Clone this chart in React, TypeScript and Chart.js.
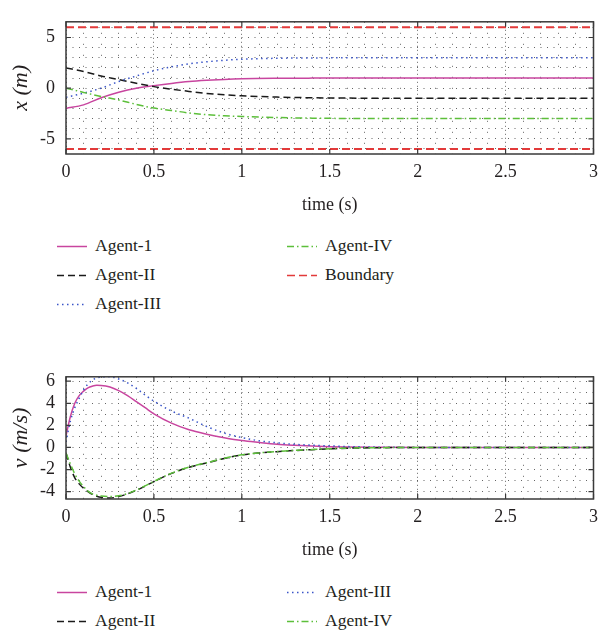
import React, { useEffect, useRef } from 'react';
import { Chart, registerables } from 'chart.js';

Chart.register(...registerables);

const FONT = "'Liberation Serif', 'DejaVu Serif', serif";
const TEXT = '#231f20';

// ---- Top chart: positions x (m) ----
const tPos = [0, 0.1, 0.2, 0.3, 0.4, 0.5, 0.6, 0.7, 0.8, 0.9, 1.0, 1.2, 1.4, 1.6, 2.0, 2.5, 3.0];
const posAgent1 = [-2, -1.65, -0.95, -0.4, 0.0, 0.25, 0.47, 0.65, 0.77, 0.86, 0.92, 0.97, 0.99, 1, 1, 1, 1];
const posAgent2 = [2, 1.65, 1.2, 0.85, 0.48, 0.15, -0.1, -0.32, -0.52, -0.66, -0.76, -0.88, -0.95, -0.98, -1, -1, -1];
const posAgent3 = [-0.9, -0.5, 0.0, 0.65, 1.2, 1.72, 2.1, 2.4, 2.6, 2.75, 2.85, 2.95, 2.98, 3, 3, 3, 3];
const posAgent4 = [0, -0.42, -0.82, -1.17, -1.6, -1.97, -2.2, -2.45, -2.62, -2.72, -2.8, -2.9, -2.96, -2.99, -3, -3, -3];
const tBoundary = [0, 3];
const boundaryUpper = [6, 6];
const boundaryLower = [-6, -6];

// ---- Bottom chart: velocities v (m/s) ----
const tVel = [0, 0.025, 0.05, 0.075, 0.1, 0.125, 0.15, 0.175, 0.2, 0.25, 0.3, 0.35, 0.4, 0.45, 0.5, 0.6, 0.7, 0.8, 0.9, 1.0, 1.1, 1.2, 1.3, 1.4, 1.5, 1.6, 1.8, 2.0, 2.5, 3.0];
const velAgent1 = [1.05, 2.8, 4.0, 4.7, 5.1, 5.4, 5.55, 5.63, 5.62, 5.48, 5.15, 4.7, 4.15, 3.6, 3.05, 2.2, 1.6, 1.2, 0.88, 0.62, 0.45, 0.3, 0.2, 0.12, 0.06, 0.03, 0.01, 0, 0, 0];
const velAgent2 = [-0.5, -1.8, -2.75, -3.3, -3.7, -4.0, -4.25, -4.42, -4.52, -4.58, -4.45, -4.2, -3.88, -3.5, -3.1, -2.35, -1.8, -1.4, -1.0, -0.68, -0.5, -0.38, -0.28, -0.2, -0.13, -0.07, -0.02, 0, 0, 0];
const velAgent3 = [0.5, 2.4, 3.6, 4.45, 5.2, 5.75, 6.1, 6.3, 6.38, 6.42, 6.2, 5.85, 5.35, 4.75, 4.2, 3.3, 2.65, 1.9, 1.3, 0.9, 0.6, 0.42, 0.28, 0.2, 0.14, 0.08, 0.02, 0, 0, 0];
const velAgent4 = [-0.5, -1.5, -2.4, -3.05, -3.55, -3.95, -4.2, -4.33, -4.4, -4.45, -4.38, -4.18, -3.86, -3.48, -3.08, -2.33, -1.78, -1.38, -0.98, -0.67, -0.49, -0.37, -0.27, -0.19, -0.12, -0.06, -0.02, 0, 0, 0];

// ---- Tick labels ----
const timeTicks = [0, 0.5, 1, 1.5, 2, 2.5, 3];
const posTicks = [-5, 0, 5];
const velTicks = [-4, -2, 0, 2, 4, 6];

// ---- Styles ----
const C_A1 = '#c8459f';
const C_A2 = '#1a1a1a';
const C_A3 = '#3a55c8';
const C_A4 = '#5cbf3a';
const C_BD = '#e23a3a';
const GRID = 'rgba(50,50,50,0.75)';

const DASH_A2 = [7, 4];
const DASH_A3 = [1.5, 3.5];
const DASH_A4 = [7, 3, 1.5, 3];
const DASH_BD = [8, 4];

const zip = (xs: number[], ys: number[]) => xs.map((x, i) => ({ x, y: ys[i] }));
const near = (v: number, list: number[]) => list.some((t) => Math.abs(t - v) < 1e-6);

function lineDs(label: string, xs: number[], ys: number[], color: string, dash: number[], width = 1.5) {
  return {
    label,
    data: zip(xs, ys),
    borderColor: color,
    backgroundColor: color,
    borderWidth: width,
    borderDash: dash,
    pointRadius: 0,
    fill: false,
    cubicInterpolationMode: 'monotone' as const,
  };
}

function makeFramePlugin(xMajor: number[], yMajor: number[]) {
  return {
    id: 'frameTicks',
    afterDatasetsDraw(chart: any) {
      const { ctx, chartArea: a, scales } = chart;
      ctx.save();
      ctx.setLineDash([]);
      ctx.strokeStyle = '#3a3a3a';
      ctx.lineWidth = 1.5;
      ctx.strokeRect(a.left, a.top, a.right - a.left, a.bottom - a.top);
      ctx.lineWidth = 1.2;
      const L = 5;
      ctx.beginPath();
      for (const v of xMajor) {
        const px = scales.x.getPixelForValue(v);
        ctx.moveTo(px, a.bottom);
        ctx.lineTo(px, a.bottom - L);
        ctx.moveTo(px, a.top);
        ctx.lineTo(px, a.top + L);
      }
      for (const v of yMajor) {
        const py = scales.y.getPixelForValue(v);
        ctx.moveTo(a.left, py);
        ctx.lineTo(a.left + L, py);
        ctx.moveTo(a.right, py);
        ctx.lineTo(a.right - L, py);
      }
      ctx.stroke();
      ctx.restore();
    },
  };
}

function buildOptions(yMin: number, yMax: number, yMajor: number[], yTitle: string) {
  const tickFont = { family: FONT, size: 18 };
  return {
    responsive: false,
    animation: false as const,
    devicePixelRatio: 1,
    layout: { padding: { left: 0, right: 7, top: 7, bottom: 0 } },
    plugins: { legend: { display: false }, tooltip: { enabled: false } },
    scales: {
      x: {
        type: 'linear' as const,
        min: 0,
        max: 3,
        afterFit: (s: any) => {
          s.height = 65;
        },
        ticks: {
          stepSize: 0.1,
          autoSkip: false,
          maxRotation: 0,
          padding: 7,
          color: TEXT,
          font: tickFont,
          callback: (v: any) => (near(Number(v), timeTicks) ? String(Math.round(Number(v) * 2) / 2) : ''),
        },
        grid: {
          drawTicks: false,
          color: GRID,
          lineWidth: 1,
        },
        border: {
          display: false,
          dash: (c: any) => (c.tick && near(c.tick.value, timeTicks) ? [1, 3] : [1, 10]),
        },
        title: {
          display: true,
          text: 'time (s)',
          color: TEXT,
          font: { family: FONT, size: 18 },
          padding: { top: 0, bottom: 3 },
        },
      },
      y: {
        type: 'linear' as const,
        min: yMin,
        max: yMax,
        afterFit: (s: any) => {
          s.width = 66;
        },
        ticks: {
          stepSize: 1,
          includeBounds: false,
          autoSkip: false,
          padding: 11,
          color: TEXT,
          font: tickFont,
          callback: (v: any) => (near(Number(v), yMajor) ? String(Math.round(Number(v))) : ''),
        },
        grid: {
          drawTicks: false,
          color: GRID,
          lineWidth: 1,
        },
        border: {
          display: false,
          dash: [1, 5.5],
        },
        title: {
          display: true,
          text: yTitle,
          color: TEXT,
          font: { family: FONT, size: 22, style: 'italic' as const },
          padding: { top: 8, bottom: 0 },
        },
      },
    },
  };
}

function PositionChart() {
  const ref = useRef<HTMLCanvasElement>(null);
  useEffect(() => {
    if (!ref.current) return;
    const chart = new Chart(ref.current, {
      type: 'line',
      data: {
        datasets: [
          lineDs('Boundary', tBoundary, boundaryUpper, C_BD, DASH_BD, 2),
          lineDs('Boundary (lower)', tBoundary, boundaryLower, C_BD, DASH_BD, 2),
          lineDs('Agent-IV', tPos, posAgent4, C_A4, DASH_A4),
          lineDs('Agent-III', tPos, posAgent3, C_A3, DASH_A3),
          lineDs('Agent-II', tPos, posAgent2, C_A2, DASH_A2),
          lineDs('Agent-1', tPos, posAgent1, C_A1, []),
        ] as any,
      },
      options: buildOptions(-6.5, 6.55, posTicks, 'x (m)') as any,
      plugins: [makeFramePlugin(timeTicks, posTicks)],
    });
    return () => chart.destroy();
  }, []);
  return <canvas ref={ref} width={605} height={219} style={{ position: 'absolute', left: 0, top: 0, width: 605, height: 219 }} />;
}

function VelocityChart() {
  const ref = useRef<HTMLCanvasElement>(null);
  useEffect(() => {
    if (!ref.current) return;
    const chart = new Chart(ref.current, {
      type: 'line',
      data: {
        datasets: [
          lineDs('Agent-IV', tVel, velAgent4, C_A4, DASH_A4),
          lineDs('Agent-II', tVel, velAgent2, C_A2, DASH_A2),
          lineDs('Agent-III', tVel, velAgent3, C_A3, DASH_A3),
          lineDs('Agent-1', tVel, velAgent1, C_A1, []),
        ] as any,
      },
      options: buildOptions(-4.67, 6.4, velTicks, 'v (m/s)') as any,
      plugins: [makeFramePlugin(timeTicks, velTicks)],
    });
    return () => chart.destroy();
  }, []);
  return <canvas ref={ref} width={605} height={209} style={{ position: 'absolute', left: 0, top: 355, width: 605, height: 209 }} />;
}

type LegendItem = { label: string; color: string; dash: number[]; width?: number };

function LegendEntry({ item, left, top }: { item: LegendItem; left: number; top: number }) {
  return (
    <div style={{ position: 'absolute', left, top, height: 20, whiteSpace: 'nowrap' }}>
      <svg width={30} height={20} style={{ position: 'absolute', left: 0, top: 0 }}>
        <line
          x1={0}
          y1={11.5}
          x2={30}
          y2={11.5}
          stroke={item.color}
          strokeWidth={item.width || 1.5}
          strokeDasharray={item.dash.length ? item.dash.join(' ') : undefined}
        />
      </svg>
      <span
        style={{
          position: 'absolute',
          left: 38,
          top: 0,
          fontFamily: FONT,
          fontSize: 17.5,
          lineHeight: '20px',
          color: TEXT,
        }}
      >
        {item.label}
      </span>
    </div>
  );
}

const LEG_A1: LegendItem = { label: 'Agent-1', color: C_A1, dash: [] };
const LEG_A2: LegendItem = { label: 'Agent-II', color: C_A2, dash: DASH_A2 };
const LEG_A3: LegendItem = { label: 'Agent-III', color: C_A3, dash: DASH_A3 };
const LEG_A4: LegendItem = { label: 'Agent-IV', color: C_A4, dash: DASH_A4 };
const LEG_BD: LegendItem = { label: 'Boundary', color: C_BD, dash: DASH_BD };

export default function App() {
  return (
    <div style={{ position: 'absolute', left: 0, top: 0, width: 605, height: 635, background: '#fff', overflow: 'hidden' }}>
      <PositionChart />
      <LegendEntry item={LEG_A1} left={57} top={234.5} />
      <LegendEntry item={LEG_A2} left={57} top={263.8} />
      <LegendEntry item={LEG_A3} left={57} top={292.5} />
      <LegendEntry item={LEG_A4} left={287} top={234.5} />
      <LegendEntry item={LEG_BD} left={287} top={263.8} />

      <VelocityChart />
      <LegendEntry item={LEG_A1} left={57} top={580.8} />
      <LegendEntry item={LEG_A2} left={57} top={609.7} />
      <LegendEntry item={LEG_A3} left={287} top={580.8} />
      <LegendEntry item={LEG_A4} left={287} top={609.7} />
    </div>
  );
}
